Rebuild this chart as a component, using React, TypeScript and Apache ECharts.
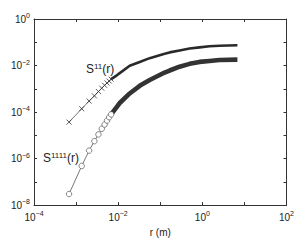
import React, { useEffect, useRef } from "react";
import * as echarts from "echarts";

// separation r (m) of the individually visible markers
const R_MARK = [0.00068, 0.00136, 0.00204, 0.00272, 0.0034, 0.00408, 0.00476, 0.00544, 0.00612, 0.0068];
const S11_MARK = [3.7e-5, 1.39e-4, 2.97e-4, 4.98e-4, 7.6e-4, 1.06e-3, 1.41e-3, 1.78e-3, 2.15e-3, 2.6e-3];
const S1111_MARK = [3.0e-8, 4.8e-7, 2.2e-6, 5.6e-6, 1.09e-5, 1.9e-5, 2.9e-5, 4.3e-5, 6.0e-5, 7.9e-5];

// dense part of the curves (markers overlap into a band)
const R_BAND = [0.0068, 0.0093, 0.0109, 0.0188, 0.0325, 0.0561, 0.127, 0.167, 0.288, 0.498, 0.859, 1.48, 2.56, 6.82];
const S11_BAND = [2.6e-3, 3.79e-3, 4.7e-3, 9.8e-3, 0.0143, 0.0208, 0.0318, 0.0367, 0.0443, 0.0535, 0.0605, 0.0677, 0.071, 0.0745];
const S1111_BAND = [7.9e-5, 1.68e-4, 2.45e-4, 6.3e-4, 1.34e-3, 2.37e-3, 5.0e-3, 6.1e-3, 8.9e-3, 0.0118, 0.0143, 0.0157, 0.0172, 0.018];

const X_MIN = 1e-4;
const X_MAX = 1e2;
const Y_MIN = 1e-8;
const Y_MAX = 1;
const X_LABEL = "r (m)";

const FONT = "Liberation Sans, Arial, sans-serif";
const AXIS_COLOR = "#333";

const zip = (xs: number[], ys: number[]) => xs.map((x, i) => [x, ys[i]]);

const expFormatter = (v: number) => {
  const e = Math.round(Math.log10(v));
  if (e % 2 !== 0) return "";
  return `{b|10}{e|${e < 0 ? "\u2212" + Math.abs(e) : e}}`;
};

const richLabel = {
  b: { fontSize: 10, fontFamily: FONT, color: "#222" },
  e: { fontSize: 7, fontFamily: FONT, color: "#222", verticalAlign: "top", padding: [0, 0, 7, 0] },
};

const X_SYMBOL = "path://M0,0L10,10M10,0L0,10";

export default function App() {
  const ref = useRef<HTMLDivElement>(null);
  useEffect(() => {
    if (!ref.current) return;
    const chart = echarts.init(ref.current, undefined, { renderer: "svg" });
    const axisCommon = {
      axisLine: { show: true, lineStyle: { color: AXIS_COLOR, width: 1 } },
      axisTick: { show: true, inside: true, length: 3, lineStyle: { color: AXIS_COLOR } },
      splitLine: { show: false },
      minorTick: { show: false },
    };
    const supRich = {
      b: { fontSize: 12, fontFamily: FONT, fill: "#222" },
      e: { fontSize: 8, fontFamily: FONT, fill: "#222", verticalAlign: "top", padding: [0, 0, 6, 0] },
    };
    chart.setOption({
      animation: false,
      backgroundColor: "#fff",
      grid: { left: 34, right: 10, top: 19, bottom: 28, containLabel: false },
      xAxis: [
        {
          type: "log",
          logBase: 10,
          min: X_MIN,
          max: X_MAX,
          splitNumber: 6,
          ...axisCommon,
          name: X_LABEL,
          nameLocation: "middle",
          nameGap: 20,
          nameTextStyle: { fontSize: 10, fontFamily: FONT, color: "#222" },
          axisLabel: { formatter: expFormatter, rich: richLabel, margin: 5, showMinLabel: true, showMaxLabel: true },
        },
        {
          type: "log",
          logBase: 10,
          min: X_MIN,
          max: X_MAX,
          splitNumber: 6,
          position: "top",
          ...axisCommon,
          axisLabel: { show: false },
        },
      ],
      yAxis: [
        {
          type: "log",
          logBase: 10,
          min: Y_MIN,
          max: Y_MAX,
          splitNumber: 8,
          ...axisCommon,
          axisLabel: { formatter: expFormatter, rich: richLabel, margin: 4, showMinLabel: true, showMaxLabel: true },
        },
        {
          type: "log",
          logBase: 10,
          min: Y_MIN,
          max: Y_MAX,
          splitNumber: 8,
          position: "right",
          ...axisCommon,
          axisLabel: { show: false },
        },
      ],
      series: [
        {
          type: "line",
          data: zip(R_BAND, S11_BAND),
          showSymbol: false,
          symbol: "none",
          lineStyle: { color: "#2a2a2a", width: 2.6 },
          z: 2,
        },
        {
          type: "line",
          data: zip(R_MARK, S11_MARK),
          symbol: X_SYMBOL,
          symbolSize: 5,
          showAllSymbol: true,
          itemStyle: { color: "none", borderColor: "#333", borderWidth: 0.8 },
          lineStyle: { color: "#555", width: 0.8 },
          z: 3,
        },
        {
          type: "line",
          data: zip(R_BAND, S1111_BAND),
          showSymbol: false,
          symbol: "none",
          lineStyle: { color: "#333", width: 4.6 },
          z: 2,
        },
        {
          type: "line",
          data: zip(R_MARK, S1111_MARK),
          symbol: "circle",
          symbolSize: 5.5,
          showAllSymbol: true,
          itemStyle: { color: "#fff", borderColor: "#555", borderWidth: 0.7 },
          lineStyle: { color: "#555", width: 0.8 },
          z: 3,
        },
      ],
      graphic: [
        {
          type: "text",
          left: 86,
          top: 62,
          style: { text: "{b|S}{e|11}{b|(r)}", rich: supRich },
        },
        {
          type: "text",
          left: 43,
          top: 151,
          style: { text: "{b|S}{e|1111}{b|(r)}", rich: supRich },
        },
      ],
    });
    return () => chart.dispose();
  }, []);
  return <div ref={ref} style={{ position: "absolute", left: 0, top: 0, width: 297, height: 242 }} />;
}
